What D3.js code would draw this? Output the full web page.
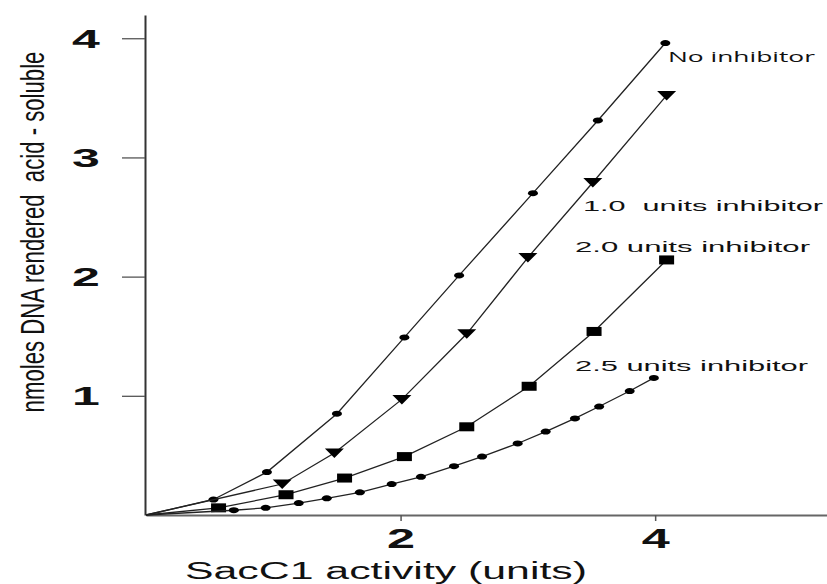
<!DOCTYPE html>
<html>
<head>
<meta charset="utf-8">
<script src="https://cdn.jsdelivr.net/npm/d3@7"></script>
<style>
  html, body { margin: 0; padding: 0; background: #fff; }
  svg { display: block; }
</style>
</head>
<body>
<script>
// ---- data ----
const seriesNames = ["No inhibitor", "1.0  units inhibitor", "2.0 units inhibitor", "2.5 units inhibitor"];
const xNone = [0, 0.53, 0.95, 1.50, 2.03, 2.46, 3.04, 3.55, 4.08];
const yNone = [0, 0.13, 0.36, 0.85, 1.49, 2.01, 2.70, 3.31, 3.96];
const x10 = [0, 1.07, 1.48, 2.01, 2.52, 3.00, 3.51, 4.09];
const y10 = [0, 0.26, 0.52, 0.97, 1.52, 2.16, 2.79, 3.52];
const x20 = [0, 0.57, 1.10, 1.56, 2.03, 2.52, 3.01, 3.52, 4.09];
const y20 = [0, 0.06, 0.17, 0.31, 0.49, 0.74, 1.08, 1.54, 2.14];
const x25 = [0, 0.69, 0.94, 1.20, 1.42, 1.68, 1.93, 2.16, 2.42, 2.64, 2.92, 3.14, 3.37, 3.56, 3.80, 3.99];
const y25 = [0, 0.04, 0.06, 0.10, 0.14, 0.19, 0.26, 0.32, 0.41, 0.49, 0.60, 0.70, 0.81, 0.91, 1.04, 1.15];
const xTicks = [2, 4];
const yTicks = [1, 2, 3, 4];
const xTitle = "SacC1 activity (units)";
const yTitle = "nmoles DNA rendered  acid - soluble";

// ---- drawing ----
const W = 827, H = 584;
const svg = d3.select("body").append("svg").attr("width", W).attr("height", H);

const x = d3.scaleLinear().domain([0, 5.35]).range([146, 827]);
const y = d3.scaleLinear().domain([0, 4.195]).range([515, 15]);

function stretch(sel, f) {
  sel.each(function () {
    const w = this.getComputedTextLength();
    d3.select(this).attr("textLength", w * f).attr("lengthAdjust", "spacingAndGlyphs");
  });
}

// y axis
const gy = svg.append("g").attr("transform", "translate(145,0)")
  .call(d3.axisLeft(y).tickValues(yTicks).tickSize(23).tickSizeOuter(0).tickFormat(d3.format("d")));
gy.select(".domain").attr("stroke", "#333").attr("stroke-width", 2);
gy.selectAll(".tick line").attr("stroke", "#555").attr("stroke-width", 1.3);
gy.selectAll(".tick text")
  .attr("x", -59).attr("dy", "0.36em").attr("text-anchor", "middle")
  .attr("font-family", "Liberation Sans, Arial, sans-serif")
  .attr("font-weight", "bold").attr("font-size", 25).attr("fill", "#111");
stretch(gy.selectAll(".tick text"), 2.0);

// x axis
const gx = svg.append("g").attr("transform", "translate(0,515)")
  .call(d3.axisBottom(x).tickValues(xTicks).tickSize(6).tickSizeOuter(0).tickFormat(d3.format("d")));
gx.select(".domain").attr("stroke", "#666").attr("stroke-width", 2);
gx.selectAll(".tick line").attr("stroke", "#555").attr("stroke-width", 1.5);
gx.selectAll(".tick text")
  .attr("y", 33).attr("dy", 0).attr("text-anchor", "middle")
  .attr("font-family", "Liberation Sans, Arial, sans-serif")
  .attr("font-weight", "bold").attr("font-size", 28).attr("fill", "#111");
stretch(gx.selectAll(".tick text"), 1.8);

// axis titles
svg.append("text")
  .attr("x", 185).attr("y", 579)
  .attr("font-family", "Liberation Sans, Arial, sans-serif")
  .attr("font-size", 23).attr("fill", "#111")
  .attr("textLength", 402).attr("lengthAdjust", "spacingAndGlyphs")
  .text(xTitle);

const yt = svg.append("text")
  .attr("text-anchor", "middle")
  .style("white-space", "pre")
  .attr("font-family", "Liberation Sans, Arial, sans-serif")
  .attr("font-size", 33).attr("fill", "#111")
  .text(yTitle);
const ytLen = yt.node().getComputedTextLength();
yt.attr("transform", `translate(44,232) rotate(-90) scale(${361 / ytLen},1)`);

// series
const series = [
  { name: seriesNames[0], xs: xNone, ys: yNone, marker: "ellipse" },
  { name: seriesNames[1], xs: x10, ys: y10, marker: "triangle" },
  { name: seriesNames[2], xs: x20, ys: y20, marker: "square" },
  { name: seriesNames[3], xs: x25, ys: y25, marker: "ellipse" }
];
const line = d3.line().x(d => x(d[0])).y(d => y(d[1]));

series.forEach(s => {
  const pts = s.xs.map((v, i) => [v, s.ys[i]]);
  svg.append("path").attr("d", line(pts))
    .attr("fill", "none").attr("stroke", "#222").attr("stroke-width", 1.3);
  const mpts = pts.filter(p => p[0] > 0);
  const g = svg.append("g").attr("fill", "#000");
  if (s.marker === "ellipse") {
    g.selectAll("ellipse").data(mpts).join("ellipse")
      .attr("cx", d => x(d[0])).attr("cy", d => y(d[1])).attr("rx", 5).attr("ry", 3);
  } else if (s.marker === "triangle") {
    g.selectAll("path").data(mpts).join("path")
      .attr("transform", d => `translate(${x(d[0])},${y(d[1])})`)
      .attr("d", "M-9.5,-4.5L9.5,-4.5L0,5Z");
  } else {
    g.selectAll("rect").data(mpts).join("rect")
      .attr("x", d => x(d[0]) - 7.5).attr("y", d => y(d[1]) - 4.5)
      .attr("width", 15).attr("height", 9);
  }
});

// series labels
const labelPos = [
  { x: 668, y: 62, w: 147, font: "Open Sans, Liberation Sans, sans-serif" },
  { x: 583, y: 211, w: 240, font: "Liberation Sans, Arial, sans-serif" },
  { x: 575, y: 252, w: 235, font: "Liberation Sans, Arial, sans-serif" },
  { x: 575, y: 371, w: 233, font: "Liberation Sans, Arial, sans-serif" }
];
series.forEach((s, i) => {
  const p = labelPos[i];
  svg.append("text")
    .attr("x", p.x).attr("y", p.y)
    .style("white-space", "pre")
    .attr("font-family", p.font)
    .attr("font-size", 14.5).attr("fill", "#111")
    .attr("textLength", p.w).attr("lengthAdjust", "spacingAndGlyphs")
    .text(s.name);
});
</script>
</body>
</html>
